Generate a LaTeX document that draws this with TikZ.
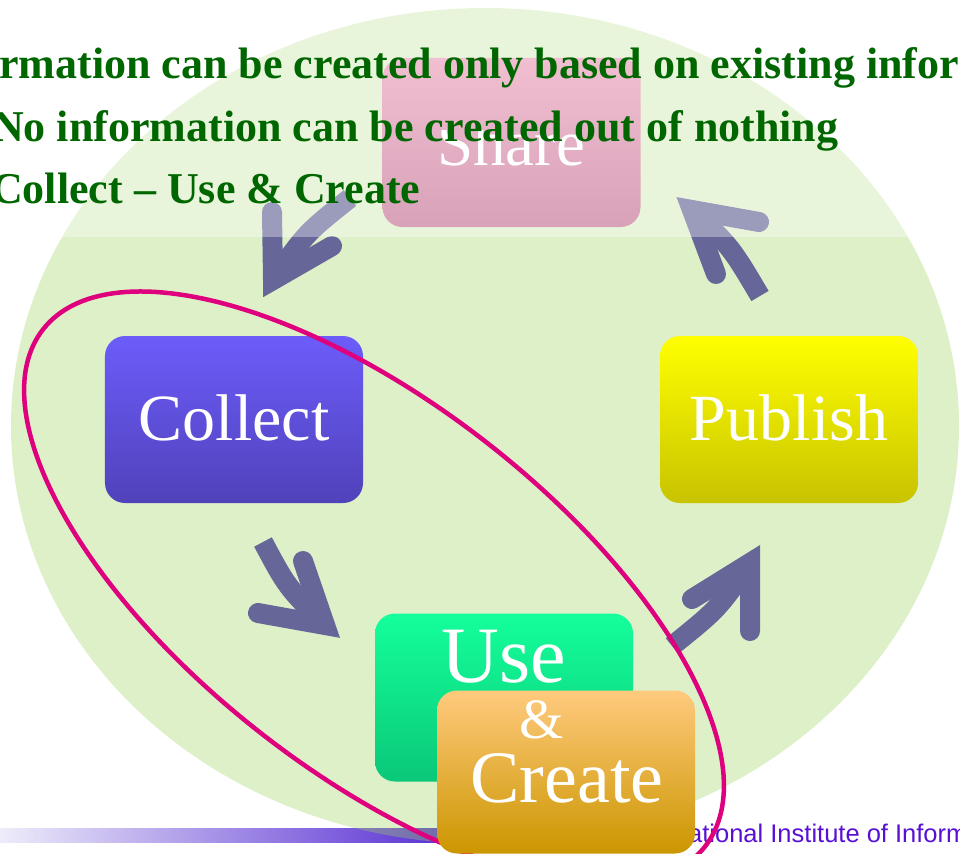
\documentclass[tikz,border=0pt]{standalone}
\usepackage{fontspec}
\setmainfont{Liberation Serif}
\newfontfamily\footfont{Liberation Sans}
\definecolor{headgreen}{RGB}{0,102,0}
\definecolor{arrowblue}{RGB}{102,102,153}
\definecolor{ringpink}{RGB}{222,0,125}
\definecolor{cyclegreen}{RGB}{158,212,98}
\definecolor{footblue}{RGB}{88,16,214}
\definecolor{barlight}{RGB}{238,236,250}
\definecolor{bardark}{RGB}{92,52,212}
\definecolor{sharetop}{RGB}{235,157,186}
\definecolor{sharebot}{RGB}{195,112,146}
\definecolor{collecttop}{RGB}{108,92,250}
\definecolor{collectbot}{RGB}{80,66,186}
\definecolor{publishtop}{RGB}{255,255,0}
\definecolor{publishbot}{RGB}{200,195,0}
\definecolor{usetop}{RGB}{20,255,155}
\definecolor{usebot}{RGB}{10,200,120}
\definecolor{createtop}{RGB}{255,202,125}
\definecolor{createmid}{RGB}{240,176,62}
\definecolor{createbot}{RGB}{204,150,0}

\begin{document}
\begin{tikzpicture}[x=1bp,y=-1bp,
  box/.style={rounded corners=20bp,minimum width=258bp,minimum height=168bp,inner sep=0pt},
  word/.style={text=white,anchor=base,inner sep=0pt},
  stemline/.style={draw=arrowblue,line width=20bp},
  headline/.style={draw=arrowblue,line width=20bp,line cap=round,line join=miter},
  bullet/.style={text=headgreen,anchor=base west,inner sep=0pt,font=\bfseries\fontsize{44bp}{50bp}\selectfont}]
\clip (0,0) rectangle (960,854);
% bar and cycle background
\shade[left color=barlight,right color=bardark] (0,828) rectangle (440,842);
\fill[bardark] (440,828) rectangle (560,842);
\fill[cyclegreen,fill opacity=.35] (485,426) ellipse (474bp and 418bp);
% boxes of the cycle
\node[box,minimum height=169bp,top color=sharetop,bottom color=sharebot] (share) at (511.5,142.5) {};
\node[box,minimum height=167bp,top color=collecttop,bottom color=collectbot] (collect) at (234,419.5) {};
\node[box,minimum height=167bp,top color=publishtop,bottom color=publishbot] (publish) at (789,419.5) {};
\node[box,top color=usetop,bottom color=usebot] (use) at (504,697.5) {};
% arrows: tail, control, vertex, arms
\coordinate (t1) at (350,198); \coordinate (c1) at (306,233); \coordinate (v1) at (273,280); \coordinate (p1) at (272,212); \coordinate (q1) at (332,246);
\coordinate (t2) at (760,296); \coordinate (c2) at (731,247); \coordinate (v2) at (692,210); \coordinate (p2) at (759,222); \coordinate (q2) at (716,274);
\coordinate (t3) at (263,542); \coordinate (c3) at (287,587); \coordinate (v3) at (325,625); \coordinate (p3) at (303,561); \coordinate (q3) at (258,613);
\coordinate (t4) at (672,646); \coordinate (c4) at (718,609); \coordinate (v4) at (750,563); \coordinate (p4) at (750,631); \coordinate (q4) at (692,599);
\foreach \i in {1,...,4}{
  \draw[stemline] (t\i) .. controls (c\i) .. (v\i);
  \draw[headline] (p\i) -- (v\i) -- (q\i);
}
\node[anchor=base west,inner sep=0pt,text=footblue,font=\footfont\fontsize{25.5bp}{28bp}\selectfont] (footer) at (688,842) {ational Institute of Inform};
% ring round collect and use
\draw[ringpink,line width=4.5bp,rotate around={-38:(374,588)}] (374,588) ellipse (420bp and 184bp);
\node[box,minimum height=163bp,top color=createtop,middle color=createmid,bottom color=createbot] (create) at (566,772) {};
% words
\begin{scope}
\clip (383,130) rectangle (640,240);
\node[word,font=\fontsize{65bp}{70bp}\selectfont] (sharetext) at (511,165) {Share};
\end{scope}
\node[word,font=\fontsize{66bp}{70bp}\selectfont] (collecttext) at (234,440) {Collect};
\node[word,font=\fontsize{66bp}{70bp}\selectfont] (publishtext) at (789,440) {Publish};
\node[word,font=\fontsize{80bp}{84bp}\selectfont] (usetext) at (504,682) {Use};
\node[word,font=\fontsize{57bp}{60bp}\selectfont] (andtext) at (542,738) {\&};
\node[word,font=\fontsize{74bp}{78bp}\selectfont] (createtext) at (567,802) {Create};
% light band over the top
\fill[white,opacity=.35] (0,0) rectangle (960,237);
\node[bullet] (line1) at (-1,78) {rmation can be created only based on existing infor};
\node[bullet] (line2) at (-8,141) {No information can be created out of nothing};
\node[bullet] (line3) at (-9,203) {Collect – Use \& Create};
\end{tikzpicture}
\end{document}
